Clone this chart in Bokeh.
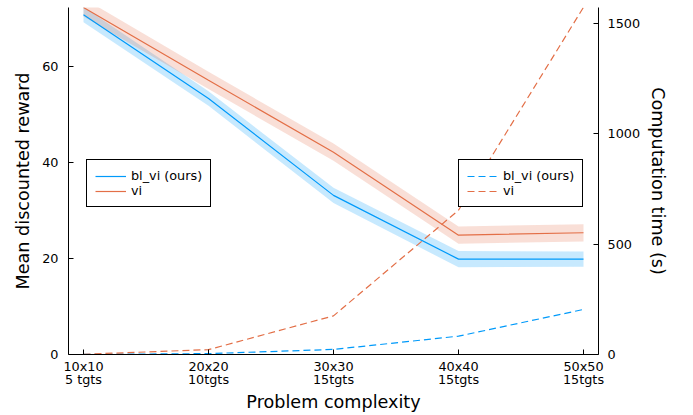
import math
from bokeh.plotting import figure
from bokeh.models import Range1d, LinearAxis, FixedTicker, Legend, LegendItem, Title
from bokeh.embed import file_html
from bokeh.resources import INLINE

# ---- data ----
x = [1, 2, 3, 4, 5]
x_labels = ["10x10\n5 tgts", "20x20\n10tgts", "30x30\n15tgts", "40x40\n15tgts", "50x50\n15tgts"]
blvi_reward = [70.9, 53.4, 33.2, 19.9, 19.9]
blvi_reward_err = [1.6, 1.5, 1.6, 1.7, 1.6]
vi_reward = [72.4, 57.2, 42.2, 24.9, 25.4]
vi_reward_err = [1.9, 1.8, 1.8, 1.8, 1.8]
blvi_time = [0.5, 4, 23, 83, 204]
vi_time = [1, 22, 175, 653, 1572]
reward_ticks = [0, 20, 40, 60]
time_ticks = [0, 500, 1000, 1500]

BLUE = "#009AFA"
ORANGE = "#E36F47"
FONT = "DejaVu Sans"

X_MIN, X_MAX = 0.88, 5.12
Y_MAX = 72.4
T_MAX = 1571

p = figure(width=693, height=415, output_backend="svg", toolbar_location=None,
           x_range=Range1d(X_MIN, X_MAX), y_range=Range1d(0, Y_MAX))
p.min_border_left = 68
p.min_border_right = 95
p.min_border_top = 7
p.min_border_bottom = 61
p.outline_line_color = None
p.xgrid.visible = False
p.ygrid.visible = False
p.background_fill_color = "white"
p.border_fill_color = "white"

p.extra_y_ranges = {"time": Range1d(0, T_MAX)}

# bands
b_lo = [m - e for m, e in zip(blvi_reward, blvi_reward_err)]
b_hi = [m + e for m, e in zip(blvi_reward, blvi_reward_err)]
v_lo = [m - e for m, e in zip(vi_reward, vi_reward_err)]
v_hi = [m + e for m, e in zip(vi_reward, vi_reward_err)]
p.varea(x=x, y1=b_lo, y2=b_hi, fill_color=BLUE, fill_alpha=0.22)
p.varea(x=x, y1=v_lo, y2=v_hi, fill_color=ORANGE, fill_alpha=0.22)

r_b = p.line(x, blvi_reward, line_color=BLUE, line_width=1.2)
r_v = p.line(x, vi_reward, line_color=ORANGE, line_width=1.2)

t_b = p.line(x, blvi_time, line_color=BLUE, line_width=1.2, line_dash="7 4", y_range_name="time")
t_v = p.line(x, vi_time, line_color=ORANGE, line_width=1.2, line_dash="7 4", y_range_name="time")

def style_axis(ax):
    ax.axis_line_color = "black"
    ax.axis_line_width = 1
    ax.major_tick_line_color = "black"
    ax.major_tick_in = 5
    ax.major_tick_out = 0
    ax.minor_tick_line_color = None
    ax.major_label_text_font = FONT
    ax.major_label_text_font_size = "12.8px"
    ax.major_label_text_color = "black"
    ax.axis_label_text_font = FONT
    ax.axis_label_text_font_size = "17.6px"
    ax.axis_label_text_font_style = "normal"
    ax.axis_label_text_color = "black"

xa = p.xaxis[0]
style_axis(xa)
xa.ticker = FixedTicker(ticks=x)
xa.major_label_overrides = {xi: lab for xi, lab in zip(x, x_labels)}
xa.major_label_standoff = 4
xa.major_label_text_line_height = 0.9
xa.axis_label = "Problem complexity"
xa.axis_label_standoff = 2

ya = p.yaxis[0]
style_axis(ya)
ya.ticker = FixedTicker(ticks=reward_ticks)
ya.major_label_standoff = 10
ya.axis_label = "Mean discounted reward"
ya.axis_label_standoff = 6

ra = LinearAxis(y_range_name="time", ticker=FixedTicker(ticks=time_ticks))
style_axis(ra)
ra.major_label_standoff = 9
p.add_layout(ra, "right")

right_title = Title(text="Computation time (s)", align="center", text_font=FONT,
                    text_font_size="17.6px", text_font_style="normal", text_color="black",
                    standoff=8)
p.add_layout(right_title, "right")

def make_legend(items, loc):
    lg = Legend(items=items, location=loc)
    lg.margin = 0
    lg.padding = 8
    lg.spacing = 0
    lg.glyph_width = 31
    lg.glyph_height = 14
    lg.label_height = 14
    lg.label_standoff = 5
    lg.label_text_font = FONT
    lg.label_text_font_size = "12.8px"
    lg.label_text_line_height = 0.9
    lg.label_text_color = "black"
    lg.border_line_color = "black"
    lg.border_line_width = 1
    lg.border_line_alpha = 1
    lg.background_fill_color = "white"
    lg.background_fill_alpha = 1
    return lg

leg1 = make_legend([LegendItem(label="bl_vi (ours)", renderers=[r_b]),
                    LegendItem(label="vi", renderers=[r_v])], (18, 147))
leg2 = make_legend([LegendItem(label="bl_vi (ours)", renderers=[t_b]),
                    LegendItem(label="vi", renderers=[t_v])], (390, 147))
p.add_layout(leg1, "center")
p.add_layout(leg2, "center")

open("out.html", "w").write(file_html(p, INLINE))
